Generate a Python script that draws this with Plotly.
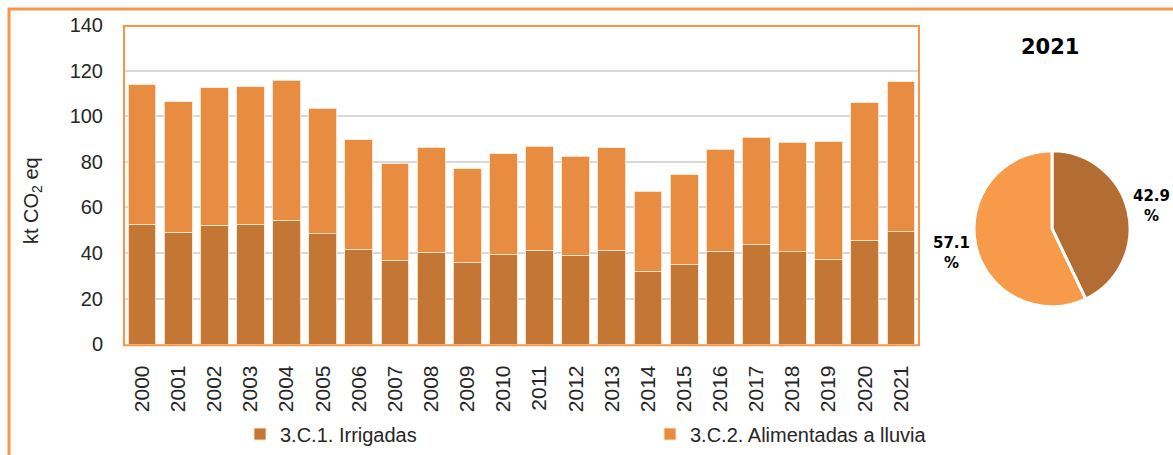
import plotly.graph_objects as go

# Emisiones por subcategoría, kt CO2 eq
years = [str(y) for y in range(2000, 2022)]
irrigadas = [52.6, 49.1, 52.3, 52.6, 54.4, 48.5, 41.7, 36.8, 40.4, 36.0, 39.3,
             41.2, 39.0, 41.2, 32.0, 34.9, 40.8, 43.7, 40.6, 37.3, 45.7, 49.4]
lluvia = [61.1, 57.2, 60.2, 60.3, 61.4, 55.0, 48.0, 42.4, 46.0, 40.9, 44.3,
          45.6, 43.5, 44.9, 35.2, 39.4, 44.7, 47.1, 48.0, 51.6, 60.3, 65.8]
series_names = ["3.C.1. Irrigadas", "3.C.2. Alimentadas a lluvia"]
y_ticks = [0, 20, 40, 60, 80, 100, 120, 140]
pie_year = "2021"

W, H = 1173, 455
FONT = "Liberation Sans, Arial, sans-serif"
BAR_COLORS = ["#C47634", "#E88C42"]
PIE_COLORS = ["#B36C31", "#F79A4A"]
FRAME = "#F79646"
TEXT = "#262626"


def px_x(v):
    return v / W


def px_y(v):
    return 1 - v / H


# plot area in pixels
PL, PR, PT, PB = 124, 919, 25, 344.3

fig = go.Figure()
for name, vals, col in zip(series_names, [irrigadas, lluvia], BAR_COLORS):
    fig.add_trace(go.Bar(
        x=years, y=vals, name=name,
        marker=dict(color=col, line=dict(color="rgba(255,232,210,0.9)", width=1)),
    ))

# pie for the last year
i = years.index(pie_year)
pie_vals = [irrigadas[i], lluvia[i]]
total = sum(pie_vals)
pcx, pcy, pr = 1052, 228.7, 78
fig.add_trace(go.Pie(
    values=pie_vals, labels=series_names, sort=False, direction="clockwise",
    rotation=0, marker=dict(colors=PIE_COLORS, line=dict(color="white", width=3)),
    textinfo="none", hoverinfo="label+percent", showlegend=False,
    domain=dict(x=[px_x(pcx - pr), px_x(pcx + pr)], y=[px_y(pcy + pr), px_y(pcy - pr)]),
))

annotations = [
    dict(text="kt CO<sub>2</sub> eq", x=px_x(32), y=px_y(201), xref="paper", yref="paper",
         xanchor="center", yanchor="middle",
         textangle=-90, showarrow=False, font=dict(size=20, color=TEXT, family=FONT)),
    dict(text="<b>%s</b>" % pie_year, x=px_x(1050), y=px_y(47.5), xref="paper", yref="paper",
         xanchor="center", yanchor="middle",
         showarrow=False, font=dict(size=21, color="#000000", family="DejaVu Sans")),
]
label_pos = [(1151, 206), (951, 253)]
for v, (lx, ly) in zip(pie_vals, label_pos):
    annotations.append(dict(
        text="<b>%.1f<br>%%</b>" % (100 * v / total), x=px_x(lx), y=px_y(ly),
        xref="paper", yref="paper", xanchor="center", yanchor="middle",
        showarrow=False, align="center",
        font=dict(size=15, color="#000000", family="DejaVu Sans")))

shapes = [
    # plot frame
    dict(type="rect", xref="paper", yref="paper", x0=px_x(PL), x1=px_x(PR),
         y0=px_y(PB + 1), y1=px_y(PT + 1), line=dict(color=FRAME, width=2), layer="above"),
    # outer border (left and top edges)
    dict(type="path", xref="paper", yref="paper",
         path="M %f %f L %f %f L %f %f" % (px_x(9), px_y(460), px_x(9), px_y(9), px_x(1180), px_y(9)),
         line=dict(color=FRAME, width=3)),
]

fig.update_layout(
    width=W, height=H, barmode="stack", bargap=0.23,
    margin=dict(l=0, r=0, t=0, b=0, autoexpand=False),
    paper_bgcolor="white", plot_bgcolor="white",
    font=dict(family=FONT, color=TEXT),
    xaxis=dict(domain=[px_x(PL), px_x(PR)], tickangle=-90, tickfont=dict(size=21),
               showgrid=False, ticks="", ticklabelstandoff=16, showline=False,
               automargin=False),
    yaxis=dict(domain=[px_y(PB), px_y(PT)], range=[0, 140], tickvals=y_ticks,
               tickfont=dict(size=20), gridcolor="#D9D9D9", gridwidth=1.5,
               zeroline=False, ticks="", ticklabelstandoff=20, showline=False,
               automargin=False),
    legend=dict(orientation="h", x=px_x(240), y=px_y(434), xanchor="left", yanchor="middle",
                font=dict(size=20), itemwidth=30, entrywidth=365, entrywidthmode="pixels",
                traceorder="normal", bgcolor="rgba(0,0,0,0)"),
    annotations=annotations, shapes=shapes,
)

fig.write_html("out.html")
